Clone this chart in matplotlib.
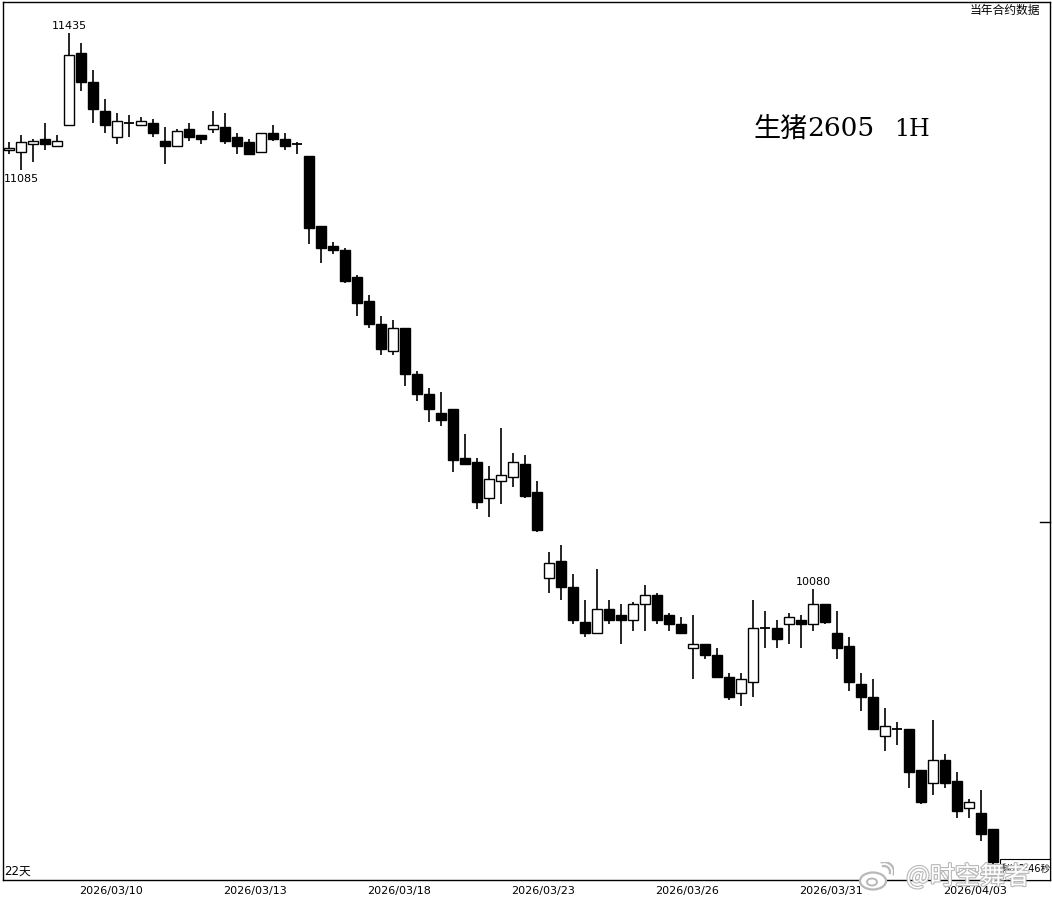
import matplotlib
matplotlib.use('Agg')
import matplotlib.pyplot as plt
from matplotlib.ticker import NullLocator
from matplotlib.patches import Rectangle, Ellipse, Arc
import matplotlib.patheffects as pe
import numpy as np

plt.rcParams['font.family'] = ['DejaVu Sans', 'Noto Sans CJK SC']

# ---- data (1H candles, 生猪2605) ----
opens = [11135, 11130, 11150, 11165, 11145, 11200, 11385, 11310, 11235, 11170,
         11205, 11200, 11205, 11160, 11145, 11190, 11175, 11190, 11195, 11170,
         11155, 11130, 11180, 11165, 11150, 11120, 10945, 10895, 10885, 10820,
         10760, 10705, 10640, 10695, 10585, 10535, 10490, 10500, 10385, 10375,
         10290, 10330, 10340, 10370, 10305, 10105, 10145, 10085, 10005, 9980,
         10035, 10020, 10010, 10045, 10065, 10020, 10000, 9945, 9955, 9930,
         9880, 9845, 9870, 9990, 9990, 10000, 10010, 10000, 10045, 9980,
         9950, 9865, 9835, 9750, 9765, 9765, 9675, 9645, 9695, 9650,
         9590, 9580, 9545]
highs = [11155, 11175, 11165, 11205, 11175, 11435, 11410, 11340, 11265, 11230,
         11225, 11220, 11215, 11195, 11190, 11205, 11175, 11235, 11230, 11180,
         11165, 11180, 11200, 11180, 11155, 11120, 10945, 10905, 10890, 10825,
         10775, 10725, 10715, 10695, 10590, 10550, 10540, 10500, 10440, 10385,
         10365, 10455, 10395, 10390, 10330, 10165, 10180, 10115, 10055, 10125,
         10055, 10045, 10050, 10090, 10070, 10025, 10015, 10020, 9955, 9945,
         9890, 9890, 10055, 10030, 10010, 10025, 10020, 10080, 10045, 10030,
         9970, 9890, 9875, 9810, 9780, 9765, 9675, 9785, 9710, 9670,
         9610, 9630, 9545]
lows = [11125, 11085, 11105, 11135, 11145, 11200, 11285, 11205, 11180, 11150,
        11170, 11200, 11170, 11100, 11145, 11160, 11150, 11180, 11150, 11125,
        11125, 11130, 11160, 11135, 11125, 10900, 10855, 10875, 10805, 10725,
        10695, 10630, 10630, 10555, 10520, 10470, 10460, 10350, 10370, 10265,
        10245, 10275, 10315, 10290, 10210, 10070, 10055, 10000, 9970, 9980,
        10000, 9955, 9985, 9985, 10000, 9985, 9980, 9875, 9920, 9880,
        9830, 9815, 9835, 9945, 9945, 9955, 9945, 9985, 10000, 9920,
        9850, 9805, 9765, 9715, 9730, 9635, 9600, 9620, 9635, 9570,
        9570, 9520, 9470]
closes = [11140, 11155, 11160, 11150, 11160, 11380, 11310, 11240, 11200, 11210,
          11205, 11210, 11180, 11145, 11185, 11170, 11165, 11200, 11160, 11145,
          11125, 11180, 11165, 11145, 11150, 10940, 10890, 10885, 10810, 10755,
          10705, 10645, 10695, 10585, 10535, 10500, 10475, 10380, 10370, 10280,
          10335, 10345, 10375, 10295, 10215, 10140, 10085, 10010, 9980, 10035,
          10010, 10010, 10045, 10065, 10010, 10000, 9980, 9955, 9930, 9880,
          9835, 9875, 9990, 9990, 9965, 10015, 10000, 10045, 10005, 9945,
          9870, 9835, 9765, 9770, 9765, 9670, 9605, 9695, 9645, 9585,
          9605, 9535, 9475]
date_labels = ['2026/03/10', '2026/03/13', '2026/03/18', '2026/03/23',
               '2026/03/26', '2026/03/31', '2026/04/03']
high_label_idx = [5, 67]
low_label_idx = [1]
title_name = '生猪'
title_code = '2605'
title_period = '1H'
period_text = '22天'
corner_text = '当年合约数据'
countdown_text = '剩(02:46秒'
watermark = '@时空舞者'
right_tick_price = 10234

W, H = 1052, 900
fig = plt.figure(figsize=(W / 100, H / 100), dpi=100)
fig.patch.set_facecolor('white')
left_px, right_px, top_px, bottom_px = 3.3, 1050, 1.7, 880
ax = fig.add_axes([left_px / W, 1 - bottom_px / H,
                   (right_px - left_px) / W, (bottom_px - top_px) / H])
ax.set_yscale('log')

o = np.array(opens, float); c = np.array(closes, float)
h = np.array(highs, float); l = np.array(lows, float)
x = np.arange(len(o))

ax.vlines(x, l, h, colors='black', linewidth=1.2, zorder=1)
up = c > o
down = c < o
flat = c == o
bw = 0.84
ax.bar(x[up], (c - o)[up], bottom=o[up], width=bw, facecolor='white',
       edgecolor='black', linewidth=1.0, zorder=2)
ax.bar(x[down], (c - o)[down], bottom=o[down], width=bw, facecolor='black',
       edgecolor='black', linewidth=1.0, zorder=2)
ax.hlines(c[flat], x[flat] - bw / 2, x[flat] + bw / 2, colors='black',
          linewidth=1.3, zorder=2)

for i in high_label_idx:
    ax.annotate(f'{highs[i]}', xy=(i, highs[i]), xytext=(0, 1.5),
                textcoords='offset points', ha='center', va='bottom', fontsize=8)
for i in low_label_idx:
    ax.annotate(f'{lows[i]}', xy=(i, lows[i]), xytext=(0, -2.5),
                textcoords='offset points', ha='center', va='top', fontsize=8)

xmin = -0.5
xmax = (right_px - 9.3) / 12
ax.set_xlim(xmin, xmax)
ax.set_ylim(9435.4, 11517.3)
ax.yaxis.set_major_locator(NullLocator())
ax.yaxis.set_minor_locator(NullLocator())
ax.set_xticks([8.5 + 12 * k for k in range(len(date_labels))])
ax.set_xticklabels(date_labels, fontsize=8)
ax.tick_params(axis='x', length=0, pad=4)
for s in ax.spines.values():
    s.set_linewidth(1.0)
    s.set_color('black')

# right-hand price tick
ax.plot([xmax - 0.83, xmax], [right_tick_price, right_tick_price],
        color='black', linewidth=1.0, clip_on=False, zorder=3)

# countdown box bottom-right
bx0 = (1000 - left_px) / (right_px - left_px)
by1 = (bottom_px - 859) / (bottom_px - top_px)
ax.add_patch(Rectangle((bx0, 0), 1 - bx0, by1, transform=ax.transAxes,
                       facecolor='white', edgecolor='black', linewidth=0.8,
                       zorder=4, clip_on=False))
ax.text((bx0 + 1) / 2, by1 / 2, countdown_text, transform=ax.transAxes,
        ha='center', va='center', fontsize=7, zorder=5,
        family=['DejaVu Sans', 'Noto Sans CJK SC'])

# title pieces
fig.text(754 / W, 1 - 129 / H, title_name, ha='left', va='center', fontsize=19.5,
         family=['Noto Sans CJK SC', 'DejaVu Sans'])
fig.text(807 / W, 1 - 129 / H, title_code, ha='left', va='center', fontsize=19,
         family=['DejaVu Serif'])
fig.text(894 / W, 1 - 129 / H, title_period, ha='left', va='center', fontsize=17,
         family=['DejaVu Serif'])

fig.text(1040 / W, 1 - 10 / H, corner_text, ha='right', va='center',
         fontsize=8.5, family=['Noto Sans CJK SC', 'DejaVu Sans'])
fig.text(4 / W, 1 - 871 / H, period_text, ha='left', va='center',
         fontsize=8.5, family=['DejaVu Sans', 'Noto Sans CJK SC'])

# watermark (weibo-like logo + handle)
wm_stroke = [pe.withStroke(linewidth=1.6, foreground='#b8b8b8')]
fig.text(968 / W, 1 - 877 / H, watermark, ha='center', va='center',
         fontsize=18, color='white', zorder=10,
         family=['Noto Sans CJK SC', 'DejaVu Sans'], path_effects=wm_stroke)
logo_ax = fig.add_axes([858 / W, 1 - 892 / H, 36 / W, 30 / H])
logo_ax.set_xlim(0, 36); logo_ax.set_ylim(0, 30); logo_ax.axis('off')
logo_ax.patch.set_alpha(0)
logo_ax.add_patch(Ellipse((15, 11), 26, 17, facecolor='white',
                          edgecolor='#b8b8b8', linewidth=1.6))
logo_ax.add_patch(Ellipse((14, 10), 10, 7, facecolor='white',
                          edgecolor='#b8b8b8', linewidth=1.4))
logo_ax.add_patch(Arc((26, 20), 12, 12, theta1=-20, theta2=110,
                      edgecolor='#b8b8b8', linewidth=1.6))
logo_ax.add_patch(Arc((26, 20), 20, 20, theta1=-20, theta2=110,
                      edgecolor='#b8b8b8', linewidth=1.6))

fig.savefig('out.png', dpi=100, facecolor='white')
